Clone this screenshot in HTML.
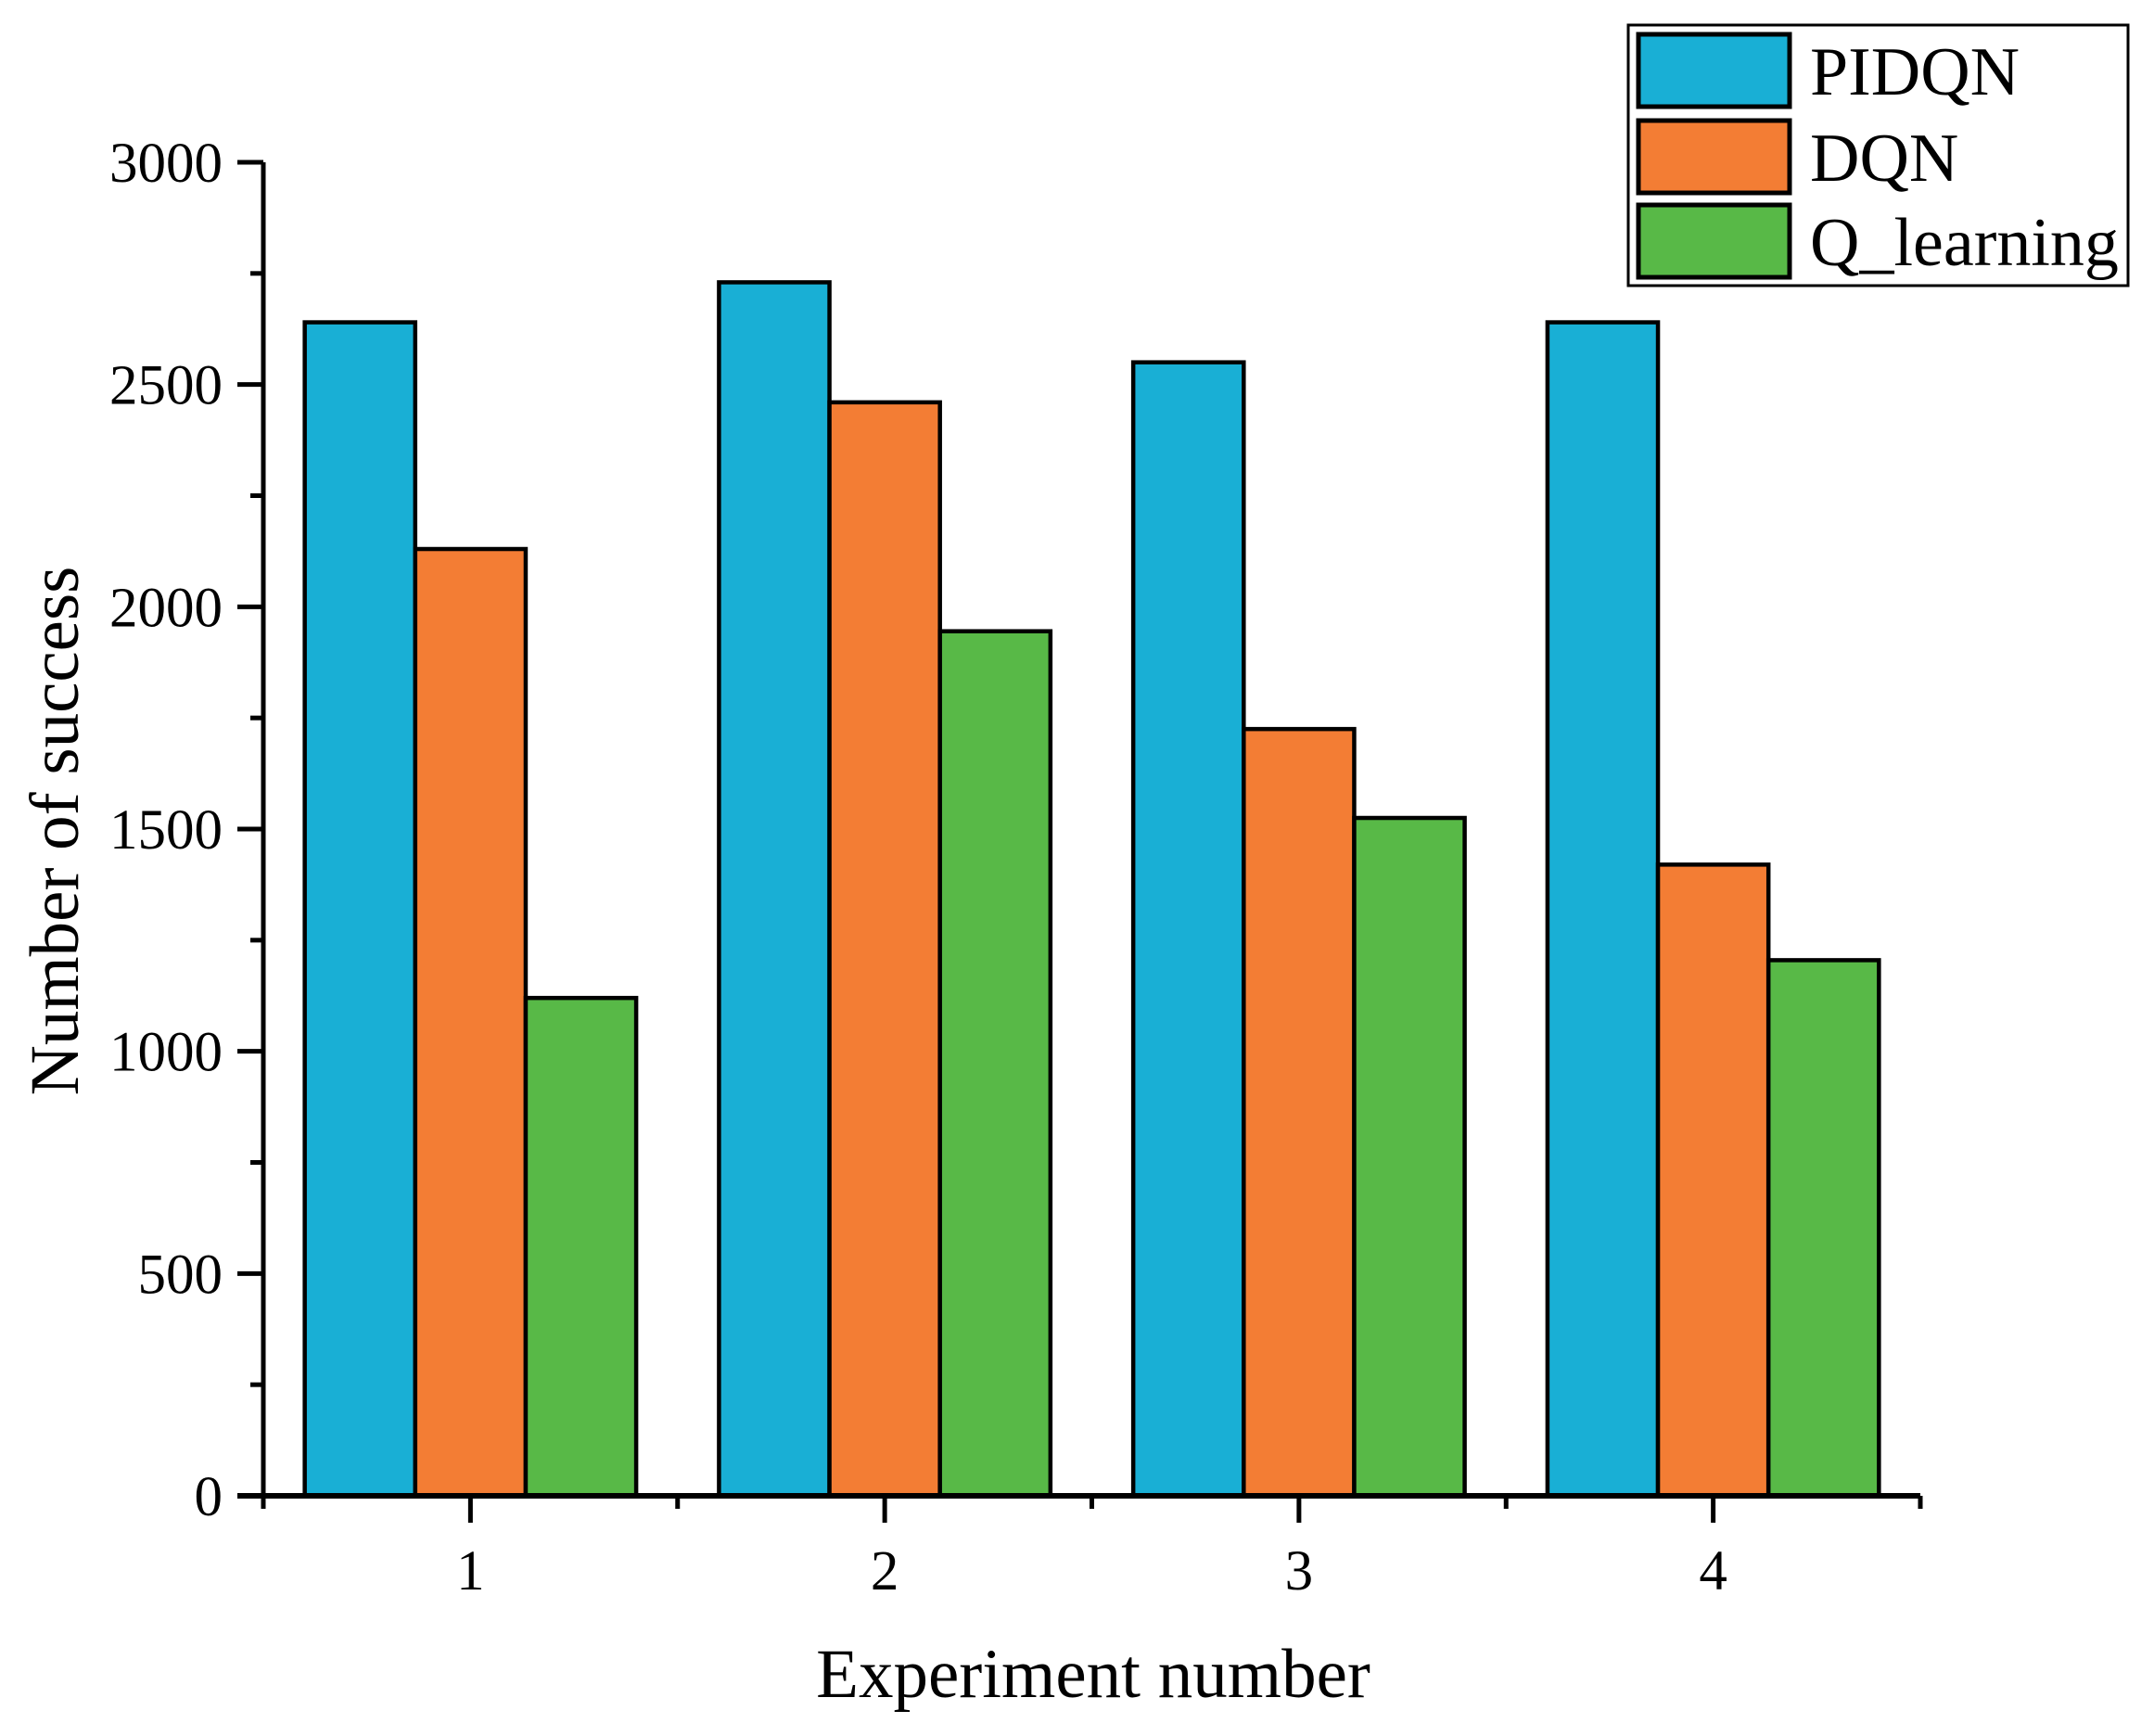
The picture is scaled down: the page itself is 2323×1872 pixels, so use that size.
<!DOCTYPE html>
<html><head><meta charset="utf-8"><style>
html,body{margin:0;padding:0;background:#fff;}
svg{display:block;font-family:"Liberation Serif","Times New Roman",serif;}
</style></head><body>
<svg id="chart" width="2323" height="1872" viewBox="0 0 2323 1872" xmlns="http://www.w3.org/2000/svg">
<g id="bars"></g>
<g id="axes"></g>
<text x="1179" y="1830" font-size="75" text-anchor="middle">Experiment number</text>
<text transform="translate(84,896) rotate(-90)" font-size="75" text-anchor="middle">Number of success</text>
<g id="legend">
<rect x="1756" y="27" width="539" height="281" fill="#fff" stroke="#000" stroke-width="3"/>
</g>
</svg>
<script>
const categories = ["1","2","3","4"];
const seriesNames = ["PIDQN","DQN","Q_learning"];
const pidqnValues = [2640, 2730, 2550, 2640];
const dqnValues = [2130, 2460, 1725, 1420];
const qlearningValues = [1120, 1945, 1525, 1205];
const yTicks = [0, 500, 1000, 1500, 2000, 2500, 3000];
const colors = ["#19afd5","#f37d34","#58b947"];
const series = [pidqnValues, dqnValues, qlearningValues];

const NS = "http://www.w3.org/2000/svg";
const X0 = 284, X1 = 2071, Y0 = 1613, Y1 = 175, YMAX = 3000;
const unit = (X1 - X0) / categories.length;
function xScale(i){ return X0 + (i + 0.5) * unit; }
function yScale(v){ return Y0 - (v / YMAX) * (Y0 - Y1); }
const barW = unit * 0.2667;

function mk(tag, attrs){ const e = document.createElementNS(NS, tag); for (const k in attrs) e.setAttribute(k, attrs[k]); return e; }

const barsG = document.getElementById('bars');
series.forEach((vals, s) => {
  vals.forEach((v, i) => {
    const cx = xScale(i);
    const x = cx - 1.5 * barW + s * barW;
    const r = mk('rect', {x: x, y: yScale(v), width: barW, height: Y0 - yScale(v), fill: colors[s], stroke: '#000', 'stroke-width': 4.5});
    
    
    barsG.appendChild(r);
  });
});

const axesG = document.getElementById('axes');
const yAxis = mk('line', {x1: X0, y1: Y1, x2: X0, y2: Y0 + 2, stroke: '#000', 'stroke-width': 5});


axesG.appendChild(yAxis);
const xAxis = mk('line', {x1: X0 - 28, y1: Y0, x2: X1, y2: Y0, stroke: '#000', 'stroke-width': 6});


axesG.appendChild(xAxis);

yTicks.forEach((t, k) => {
  const y = yScale(t);
  const tk = mk('line', {x1: X0 - 28, y1: y, x2: X0, y2: y, stroke: '#000', 'stroke-width': 5});
  
  
  axesG.appendChild(tk);
  const lb = mk('text', {x: 240, y: y + 21, 'font-size': 61, 'text-anchor': 'end'});
  lb.textContent = t;
  
  
  axesG.appendChild(lb);
  if (k < yTicks.length - 1) {
    const ym = yScale(t + (yTicks[1] - yTicks[0]) / 2);
    const mt = mk('line', {x1: X0 - 14, y1: ym, x2: X0, y2: ym, stroke: '#000', 'stroke-width': 5});
    
    
    axesG.appendChild(mt);
  }
});

categories.forEach((c, i) => {
  const x = xScale(i);
  const tk = mk('line', {x1: x, y1: Y0, x2: x, y2: Y0 + 29, stroke: '#000', 'stroke-width': 5});
  
  
  axesG.appendChild(tk);
  const lb = mk('text', {x: x, y: 1714, 'font-size': 61, 'text-anchor': 'middle'});
  lb.textContent = c;
  
  
  axesG.appendChild(lb);
});
for (let i = 0; i <= categories.length; i++) {
  const x = X0 + i * unit;
  const mt = mk('line', {x1: x, y1: Y0, x2: x, y2: Y0 + 14, stroke: '#000', 'stroke-width': 5});
  
  
  axesG.appendChild(mt);
}

const legendG = document.getElementById('legend');
const swY = [37, 130, 221];
seriesNames.forEach((n, s) => {
  const sw = mk('rect', {x: 1767, y: swY[s], width: 163, height: 78, fill: colors[s], stroke: '#000', 'stroke-width': 5});
  
  
  legendG.appendChild(sw);
  const tx = mk('text', {x: 1952, y: swY[s] + 65, 'font-size': 74});
  tx.textContent = n;
  
  
  legendG.appendChild(tx);
});
</script>
</body></html>
